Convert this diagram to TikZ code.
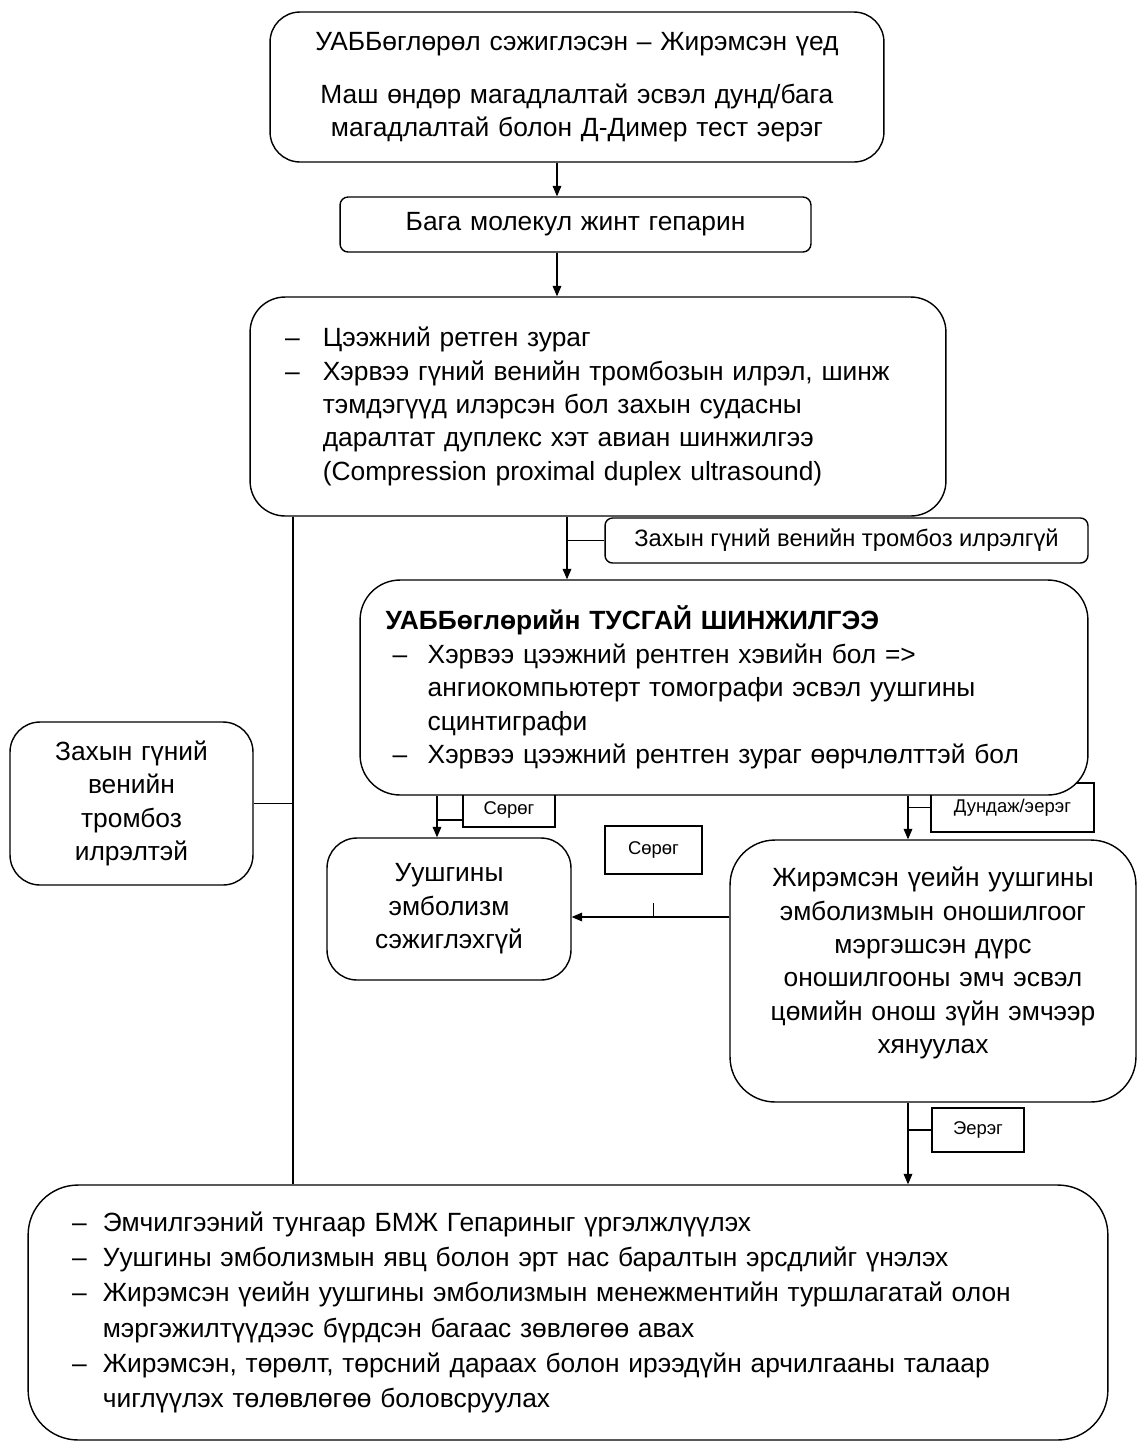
\documentclass[tikz,border=0pt]{standalone}
\usepackage{fontspec}
\setmainfont{Liberation Sans}
\usetikzlibrary{arrows.meta,positioning}
\newlength{\itmw}
\setlength{\itmw}{20pt}
\newcommand{\itm}{\makebox[\itmw][l]{–}}
\newcommand{\cnt}{\hspace*{\itmw}}

\begin{document}
\begin{tikzpicture}[x=0.02cm, y=-0.02cm,
    every node/.style = {font=\fontsize{15pt}{19pt}\selectfont},
    main/.style = {draw, thick, fill=white, rounded corners=0.6cm, inner xsep=0pt, inner ysep=0pt},
    lab/.style = {draw, thick, font=\fontsize{10.5pt}{12pt}\selectfont},
    arr/.style = {semithick, -{Triangle[length=6pt,width=5pt]}},
    line/.style = {semithick}]
    \useasboundingbox (0,0) rectangle (1139,1445);
    % labels first, so that the boxes cover them
    \node[lab, rounded corners=0.15cm, minimum width=9.66cm, minimum height=0.9cm, font=\fontsize{13.5pt}{16pt}\selectfont] (nodvt) at (846.5,540.5) {Захын гүний венийн тромбоз илрэлгүй};
    \node[lab, minimum width=1.84cm, minimum height=0.68cm] (neg1) at (509,810) {Сөрөг};
    \node[lab, minimum width=1.94cm, minimum height=0.96cm] (neg2) at (653.5,850) {Сөрөг};
    \node[lab, minimum width=3.26cm, minimum height=0.98cm] (mid) at (1012.5,807.5) {Дундаж/эерэг};
    \node[lab, minimum width=1.84cm, minimum height=0.88cm] (pos) at (978,1130) {Эерэг};
    % boxes
    \node[main, minimum width=12.28cm, minimum height=3cm, text width=11.5cm, align=center] (top) at (577,87)
        {УАББөглөрөл сэжиглэсэн – Жирэмсэн үед\\[11pt]
         Маш өндөр магадлалтай эсвэл дунд/бага\\ магадлалтай болон Д-Димер тест эерэг};
    \node[main, rounded corners=0.16cm, minimum width=9.42cm, minimum height=1.1cm, text width=9cm, align=center] (lmwh) at (575.5,224.5)
        {Бага молекул жинт гепарин};
    \node[main, rounded corners=0.7cm, minimum width=13.92cm, minimum height=4.38cm, text width=12.52cm, align=left] (xray) at (598,406.5)
        {\setlength{\itmw}{21.5pt}%
         \itm Цээжний ретген зураг\\
         \itm Хэрвээ гүний венийн тромбозын илрэл, шинж\\
         \cnt тэмдэгүүд илэрсэн бол захын судасны\\
         \cnt даралтат дуплекс хэт авиан шинжилгээ\\
         \cnt (Compression proximal duplex ultrasound)};
    \node[main, rounded corners=0.8cm, minimum width=14.56cm, minimum height=4.3cm, text width=13.26cm, align=left] (spec) at (724,687.5)
        {\hspace*{-4pt}\textbf{УАББөглөрийн ТУСГАЙ ШИНЖИЛГЭЭ}\\
         \itm Хэрвээ цээжний рентген хэвийн бол =>\\
         \cnt ангиокомпьютерт томографи эсвэл уушгины\\
         \cnt сцинтиграфи\\
         \itm Хэрвээ цээжний рентген зураг өөрчлөлттэй бол};
    \node[main, minimum width=4.86cm, minimum height=3.26cm, text width=4.5cm, align=center] (dvt) at (131.5,803.5)
        {Захын гүний\\ венийн\\ тромбоз\\ илрэлтэй};
    \node[main, minimum width=4.88cm, minimum height=2.84cm, text width=4.5cm, align=center] (peno) at (449,909)
        {Уушгины\\ эмболизм\\ сэжиглэхгүй};
    \node[main, rounded corners=0.9cm, minimum width=8.12cm, minimum height=5.24cm, text width=7.8cm, align=center] (peyes) at (933,971)
        {Жирэмсэн үеийн уушгины\\ эмболизмын оношилгоог\\ мэргэшсэн дүрс\\ оношилгооны эмч эсвэл\\ цөмийн онош зүйн эмчээр\\ хянуулах\\[-7pt]\mbox{}};
    \node[main, rounded corners=1cm, minimum width=21.6cm, minimum height=5.1cm, text width=19.84cm, align=left,
          font=\fontsize{15pt}{20pt}\selectfont] (bot) at (568,1312.5)
        {\setlength{\itmw}{17.5pt}%
         \itm Эмчилгээний тунгаар БМЖ Гепариныг үргэлжлүүлэх\\
         \itm Уушгины эмболизмын явц болон эрт нас баралтын эрсдлийг үнэлэх\\
         \itm Жирэмсэн үеийн уушгины эмболизмын менежментийн туршлагатай олон\\
         \cnt мэргэжилтүүдээс бүрдсэн багаас зөвлөгөө авах\\
         \itm Жирэмсэн, төрөлт, төрсний дараах болон ирээдүйн арчилгааны талаар\\
         \cnt чиглүүлэх төлөвлөгөө боловсруулах};
    % connectors
    \draw[arr] (557,0 |- top.south) -- (557,0 |- lmwh.north);
    \draw[arr] (557,0 |- lmwh.south) -- (557,0 |- xray.north);
    \draw[arr] (567,0 |- xray.south) -- (567,0 |- spec.north);
    \draw[line] (567,0 |- nodvt.west) -- (nodvt.west);
    \draw[line] (293,0 |- xray.south) -- (293,0 |- bot.north);
    \draw[line] (dvt.east) -- (293,0 |- dvt.east);
    \draw[arr] (437,0 |- spec.south) -- (437,0 |- peno.north);
    \draw[line] (437,820) -- (neg1.west |- 0,820);
    \draw[arr] (peyes.west |- 0,917) -- (peno.east |- 0,917);
    \draw[line] (neg2.south |- 0,917) -- (neg2.south |- 0,903);
    \draw[arr] (908,0 |- spec.south) -- (908,0 |- peyes.north);
    \draw[line] (908,0 |- mid.west) -- (mid.west);
    \draw[arr] (908,0 |- peyes.south) -- (908,0 |- bot.north);
    \draw[line] (908,0 |- pos.west) -- (pos.west);
\end{tikzpicture}
\end{document}
